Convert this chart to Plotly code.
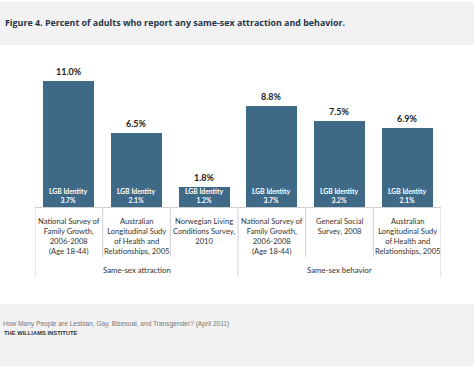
import plotly.graph_objects as go

# ---- data ----
categories = [
    "National Survey of<br>Family Growth,<br>2006-2008<br>(Age 18-44)",
    "Australian<br>Longitudinal Sudy<br>of Health and<br>Relationships, 2005",
    "Norwegian Living<br>Conditions Survey,<br>2010",
    "National Survey of<br>Family Growth,<br>2006-2008<br>(Age 18-44)",
    "General Social<br>Survey, 2008",
    "Australian<br>Longitudinal Sudy<br>of Health and<br>Relationships, 2005",
]
any_same_sex = [11.0, 6.5, 1.8, 8.8, 7.5, 6.9]
lgb_identity = [3.7, 2.1, 1.2, 3.7, 3.2, 2.1]
groups = ["Same-sex attraction", "Same-sex behavior"]
group_members = [[0, 1, 2], [3, 4, 5]]

title = "Figure 4. Percent of adults who report any same-sex attraction and behavior."
source = "How Many People are Lesbian, Gay, Bisexual, and Transgender? (April 2011)"
org = "THE WILLIAMS INSTITUTE"

W, H = 474, 366
BAR = "#3e6a88"
LINE = "#cfcfcf"
BAND = "#f2f2f2"
FONT = "Lato"


def py(p):
    return 1 - p / H


x = list(range(len(categories)))

fig = go.Figure()
fig.add_trace(go.Bar(
    x=x, y=any_same_sex, width=0.755, marker=dict(color=BAR, line=dict(width=0)),
    hoverinfo="skip", showlegend=False,
))

base_px = 207.3
top_px = 50
px_per_unit = 11.48
ymax = (base_px - top_px) / px_per_unit

shapes = [
    dict(type="rect", xref="paper", yref="paper", x0=0, x1=1, y0=py(45), y1=py(2),
         fillcolor=BAND, line=dict(width=0), layer="below"),
    dict(type="rect", xref="paper", yref="paper", x0=0, x1=1, y0=py(366), y1=py(304),
         fillcolor=BAND, line=dict(width=0), layer="below"),
    dict(type="line", xref="x", yref="paper", x0=-0.5, x1=len(x) - 0.5,
         y0=py(207.5), y1=py(207.5), line=dict(color=LINE, width=1)),
]
group_edges = {-0.5, 2.5, len(x) - 0.5}
for i in range(len(x) + 1):
    xe = i - 0.5
    bottom = 277 if xe in group_edges else 257
    shapes.append(dict(type="line", xref="x", yref="paper", x0=xe, x1=xe,
                       y0=py(207.5), y1=py(bottom), line=dict(color=LINE, width=1)))

annotations = [
    dict(text="<b>" + title + "</b>", xref="paper", yref="paper", x=3 / W, y=py(23),
         xanchor="left", yanchor="middle", showarrow=False,
         font=dict(family="Open Sans", size=8.9, color="#24364a")),
    dict(text=source, xref="paper", yref="paper", x=1 / W, y=py(324),
         xanchor="left", yanchor="middle", showarrow=False,
         font=dict(family="Liberation Sans", size=6.6, color="#777777")),
    dict(text="<b>" + org + "</b>", xref="paper", yref="paper", x=2 / W, y=py(333),
         xanchor="left", yanchor="middle", showarrow=False,
         font=dict(family="Liberation Sans", size=5.8, color="#333333")),
]

for i, (v, lg, cat) in enumerate(zip(any_same_sex, lgb_identity, categories)):
    annotations.append(dict(text="<b>%.1f%%</b>" % v, x=i, y=v, xref="x", yref="y",
                            yanchor="bottom", yshift=2, showarrow=False,
                            font=dict(family=FONT, size=9, color="#222222")))
    annotations.append(dict(text="<b>LGB Identity<br>%.1f%%</b>" % lg, x=i, y=0,
                            xref="x", yref="y", yanchor="bottom", yshift=1,
                            showarrow=False,
                            font=dict(family=FONT, size=6.8, color="white")))
    annotations.append(dict(text=cat, x=i, y=py(214), xref="x", yref="paper",
                            yanchor="top", showarrow=False,
                            font=dict(family=FONT, size=7.6, color="#333333")))

for g, members in zip(groups, group_members):
    annotations.append(dict(text=g, x=sum(members) / len(members), y=py(270),
                            xref="x", yref="paper", yanchor="middle", showarrow=False,
                            font=dict(family=FONT, size=7.8, color="#333333")))

fig.update_layout(
    width=W, height=H, margin=dict(l=0, r=0, t=0, b=0),
    paper_bgcolor="white", plot_bgcolor="white",
    xaxis=dict(domain=[35 / W, 441 / W], range=[-0.5, len(x) - 0.5],
               showticklabels=False, showgrid=False, zeroline=False, showline=False,
               fixedrange=True),
    yaxis=dict(domain=[py(base_px), py(top_px)], range=[0, ymax], visible=False,
               showgrid=False, zeroline=False, fixedrange=True),
    shapes=shapes, annotations=annotations, bargap=0,
)

fig.write_html(
    "out.html", config={"displayModeBar": False},
    post_script=("document.documentElement.style.overflow='hidden';"
                 "document.body.style.overflow='hidden';"
                 "document.body.style.margin='0px';"
                 "var d=document.getElementById('{plot_id}');"
                 "d.style.position='fixed';d.style.left='0px';d.style.top='0px';"),
)
